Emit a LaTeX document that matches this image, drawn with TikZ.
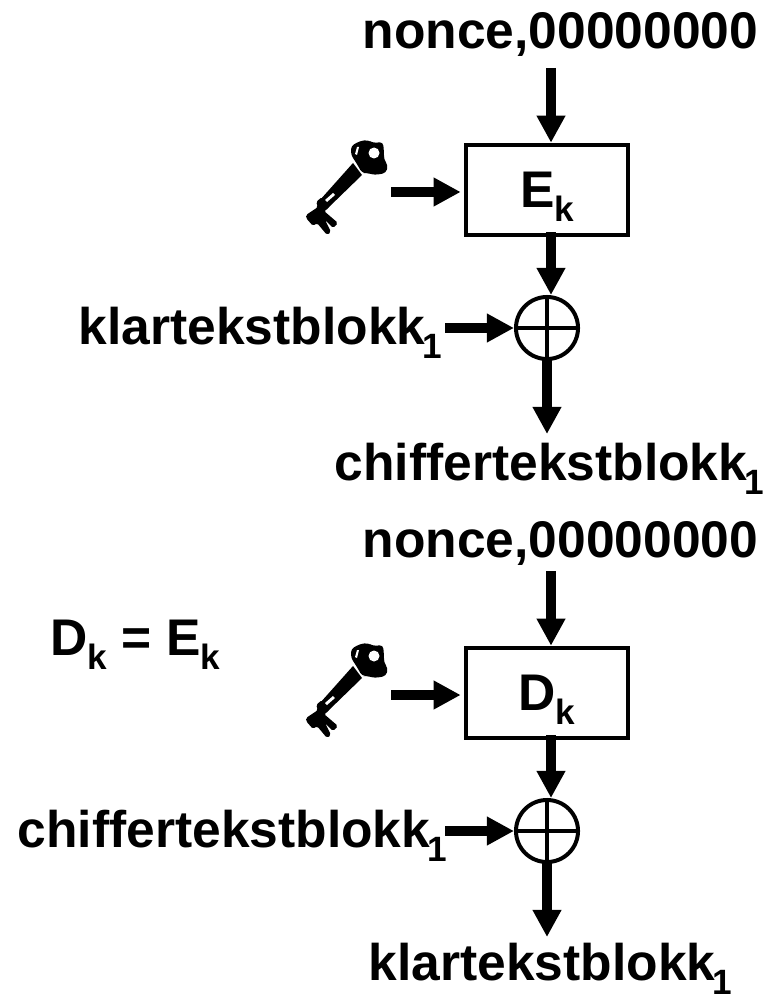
\documentclass[tikz,border=0pt]{standalone}
\usepackage{fontspec}
\usepackage{tikz}
\usetikzlibrary{arrows.meta}
\setmainfont{Liberation Sans}

% lowered index in the labels
\newcommand{\lowidx}[1]{\raisebox{-4.1pt}{\fontsize{10}{10}\selectfont #1}}

\tikzset{
  label text/.style={font=\fontsize{14.66}{17}\selectfont\bfseries,inner sep=0pt,anchor=base west},
  cipher box/.style={draw,line width=0.045cm,minimum width=1.62cm,minimum height=0.9cm,inner sep=0pt,
    text height=0.37cm,text depth=0.03cm,font=\fontsize{14.66}{17}\selectfont\bfseries},
  xor gate/.style={draw,circle,line width=0.04cm,minimum size=0.62cm,inner sep=0pt},
  flow/.style={line width=0.105cm,-{Triangle[length=0.27cm,width=0.27cm]}},
  pics/keyicon/.style={code={
    % shaft and bit
    \fill (-15,5) -- (-6,17) -- (-40,50) -- (-48,42) -- cycle;
    \fill[rounded corners=0.5pt] (-52,44) -- (-46,39) -- (-39,45) -- (-39,50) -- (-44,53) -- (-30,65) -- (-35,70)
      -- (-43,62) -- (-37,74) -- (-41,77) -- (-51,65) -- (-55,68) -- (-62,60) -- (-62,57) -- (-50,49) -- cycle;
    % bow of the key
    \fill[rounded corners=1pt] (-11,6) -- (-17,-3) -- (-17,-12) -- (-8,-17) -- (0,-18) -- (5,-15) -- (15,-16)
      -- (16,-6) -- (16,2) -- (20,7) -- (18,15) -- (7,17) -- (-1,15) -- (-6,15) -- cycle;
    % holes
    \fill[white] (6,-5) circle (5.5);
    \fill[white] (-11,-11) -- (-9,-11) -- (-11,-3) -- (-13,-4) -- cycle;
    \fill[white] (-43,42) -- (-41,44) -- (-33,37) -- (-35,35) -- cycle;
  }}
}

\begin{document}
\begin{tikzpicture}[x=0.01cm,y=-0.01cm]
\useasboundingbox (0,0) rectangle (765,994);

% Encryption
\node[label text] (nonce1) at (362,49) {nonce,00000000};
\node[cipher box] (enc) at (547,190) {E\lowidx{k}};
\node[xor gate] (xor1) at (547,328) {};
\node[label text] (plain1) at (78,344) {klartekstblokk\lowidx{\kern-0.8pt 1}};
\node[label text] (cipher1) at (334,480) {chiffertekstblokk\lowidx{\kern-0.8pt 1}};
\pic at (368,158) {keyicon};
\coordinate (in1) at (551,68);
\coordinate (keyend1) at (391,192);
\coordinate (plainend1) at (445,328);
\coordinate (out1) at (547,434);

\draw[flow] (in1) -- (in1 |- enc.north);
\draw[flow,shorten >=0.03cm] (keyend1) -- (keyend1 -| enc.west);
\draw[flow,shorten <=-0.05cm] (enc.south -| in1) -- (in1 |- xor1.north);
\draw[flow] (plainend1) -- (xor1.west);
\draw[flow,shorten <=-0.02cm] (xor1.south) -- (out1);
\draw[line width=0.04cm] (xor1.west) -- (xor1.east);
\draw[line width=0.04cm] (xor1.north) -- (xor1.south);

% Decryption
\node[label text] (nonce2) at (362,557) {nonce,00000000};
\node[label text] (equal) at (50,655) {D\lowidx{k} = E\lowidx{k}};
\node[cipher box] (dec) at (547,693) {D\lowidx{k}};
\node[xor gate] (xor2) at (547,831) {};
\node[label text] (cipher2) at (17,847) {chiffertekstblokk\lowidx{\kern-0.8pt 1}};
\node[label text] (plain2) at (368,980) {klartekstblokk\lowidx{\kern-0.8pt 1}};
\pic at (368,661) {keyicon};
\coordinate (in2) at (551,571);
\coordinate (keyend2) at (391,695);
\coordinate (cipherend2) at (445,831);
\coordinate (out2) at (547,937);

\draw[flow] (in2) -- (in2 |- dec.north);
\draw[flow,shorten >=0.03cm] (keyend2) -- (keyend2 -| dec.west);
\draw[flow,shorten <=-0.05cm] (dec.south -| in2) -- (in2 |- xor2.north);
\draw[flow] (cipherend2) -- (xor2.west);
\draw[flow,shorten <=-0.02cm] (xor2.south) -- (out2);
\draw[line width=0.04cm] (xor2.west) -- (xor2.east);
\draw[line width=0.04cm] (xor2.north) -- (xor2.south);
\end{tikzpicture}
\end{document}
